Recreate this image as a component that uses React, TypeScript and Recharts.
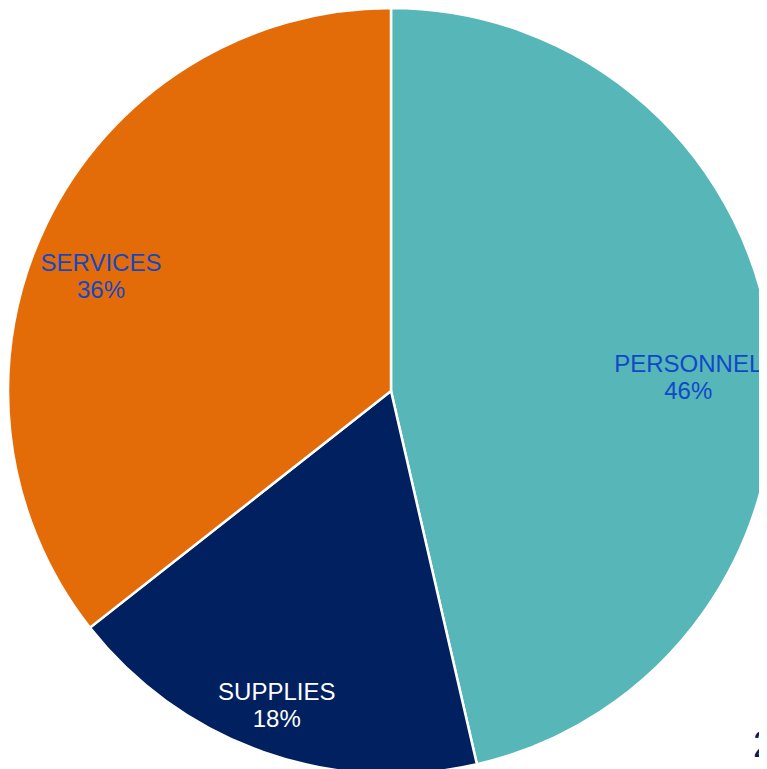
import { Cell, Pie, PieChart } from 'recharts';

const categories = ['PERSONNEL', 'SUPPLIES', 'SERVICES'];
// shares; labels show the rounded percent
const shares = [46.4, 18.0, 35.6];
const sliceColors = ['#56B6B8', '#002060', '#E36C09'];
const labelColors = ['#1148C8', '#FFFFFF', '#1148C8'];
const pageNumber = '2';

const data = categories.map((name, i) => ({ name, value: shares[i] }));

const RAD = Math.PI / 180;

function SliceLabel(props: any) {
  const { cx, cy, midAngle, outerRadius, index, percent } = props;
  const r = outerRadius * 0.81;
  const x = cx + r * Math.cos(-midAngle * RAD) - 11;
  const y = cy + r * Math.sin(-midAngle * RAD) + 21;
  return (
    <text
      x={x}
      y={y}
      textAnchor="middle"
      fill={labelColors[index]}
      fontFamily="'Liberation Sans', Arial, sans-serif"
      fontSize={24}
    >
      <tspan x={x} y={y - 5}>{categories[index]}</tspan>
      <tspan x={x} y={y + 22}>{Math.round(percent * 100)}%</tspan>
    </text>
  );
}

export default function App() {
  return (
    <div style={{ position: 'relative', width: 759, height: 761, overflow: 'hidden' }}>
      <PieChart width={759} height={761} margin={{ top: 0, right: 0, bottom: 0, left: 0 }}>
        <Pie
          data={data}
          dataKey="value"
          nameKey="name"
          cx={383}
          cy={383}
          outerRadius={383}
          startAngle={90}
          endAngle={-270}
          stroke="#FFFFFF"
          strokeWidth={2.5}
          label={SliceLabel}
          labelLine={false}
          isAnimationActive={false}
        >
          {data.map((d, i) => (
            <Cell key={d.name} fill={sliceColors[i]} />
          ))}
        </Pie>
      </PieChart>
      <div
        style={{
          position: 'absolute',
          left: 745,
          top: 716,
          fontFamily: "'Liberation Sans', Arial, sans-serif",
          fontSize: 36,
          color: '#002060',
        }}
      >
        {pageNumber}
      </div>
    </div>
  );
}
